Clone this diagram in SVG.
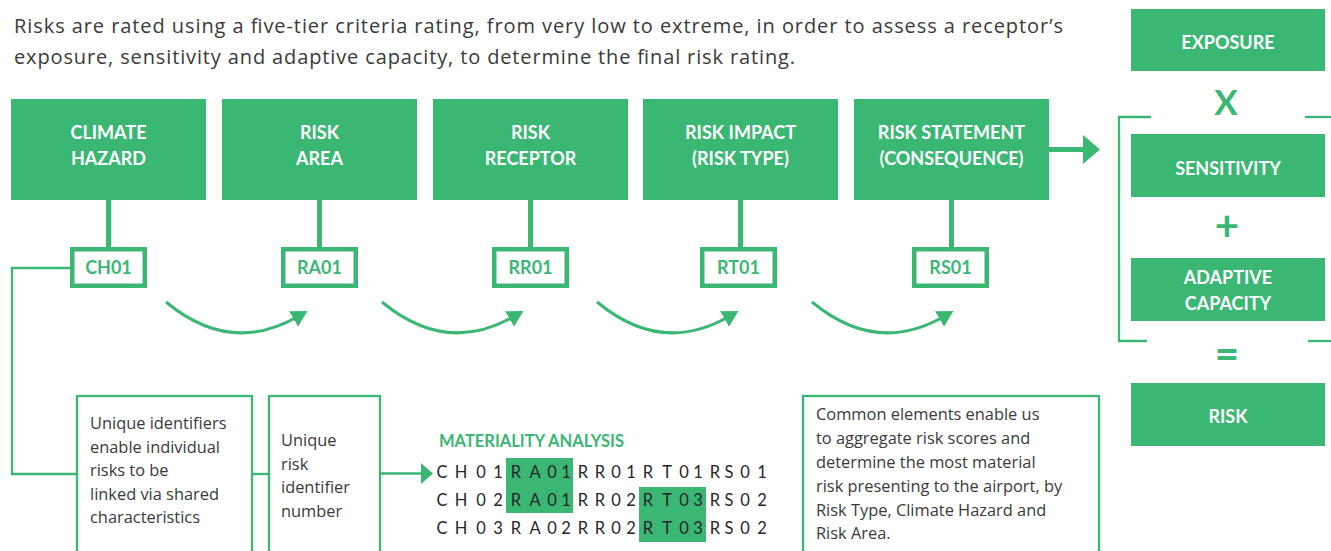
<svg xmlns="http://www.w3.org/2000/svg" width="1331" height="551" viewBox="0 0 1331 551">
  <defs>
    <style>
      .bg { fill: #ffffff; }
      .box { fill: #3bb774; }
      .boxText { font-family: Lato, "Open Sans", sans-serif; font-weight: bold; font-size: 18px; fill: #ffffff; text-anchor: middle; }
      .tag { fill: #ffffff; stroke: #3bb774; stroke-width: 4.5; }
      .tagText { font-family: Lato, "Open Sans", sans-serif; font-weight: bold; font-size: 18px; fill: #3bb774; text-anchor: middle; }
      .stem { stroke: #3bb774; stroke-width: 5; fill: none; }
      .thin { stroke: #3bb774; stroke-width: 2.3; fill: none; }
      .curve { stroke: #3bb774; stroke-width: 3; fill: none; }
      .note { fill: #ffffff; stroke: #3bb774; stroke-width: 2.3; }
      .body { font-family: "Open Sans", Lato, sans-serif; font-size: 16.4px; fill: #3a3a3a; }
      .head { font-family: "Open Sans", Lato, sans-serif; font-size: 20px; fill: #3a3a3a; }
      .op { font-family: Lato, "Open Sans", sans-serif; font-weight: bold; fill: #3bb774; text-anchor: middle; }
      .code { font-family: Lato, "Open Sans", sans-serif; font-size: 16.5px; fill: #262626; text-anchor: middle; }
      .hl { fill: #3bb774; }
      .title { font-family: Lato, "Open Sans", sans-serif; font-weight: bold; font-size: 16.5px; fill: #3bb774; }
    </style>
    <marker id="curveHead" markerUnits="userSpaceOnUse" markerWidth="20" markerHeight="22" refX="4" refY="11" orient="auto">
      <path d="M0,2 L16,11 L0,20 Z" fill="#3bb774"/>
    </marker>
  </defs>

  <rect class="bg" x="0" y="0" width="1331" height="551"/>

  <!-- intro text -->
  <g id="intro">
    <text class="head" x="14" y="33" textLength="1049" lengthAdjust="spacing">Risks are rated using a five-tier criteria rating, from very low to extreme, in order to assess a receptor’s</text>
    <text class="head" x="14" y="64" textLength="781" lengthAdjust="spacing">exposure, sensitivity and adaptive capacity, to determine the final risk rating.</text>
  </g>

  <!-- connectors -->
  <g id="connectors">
    <!-- stems from category boxes to identifier tags -->
    <line class="stem" x1="108.5" y1="200" x2="108.5" y2="249"/>
    <line class="stem" x1="319.5" y1="200" x2="319.5" y2="249"/>
    <line class="stem" x1="530.5" y1="200" x2="530.5" y2="249"/>
    <line class="stem" x1="740.5" y1="200" x2="740.5" y2="249"/>
    <line class="stem" x1="951.5" y1="200" x2="951.5" y2="249"/>

    <!-- risk statement to the rating formula -->
    <line class="stem" x1="1049" y1="149.5" x2="1085" y2="149.5"/>
    <path d="M1083,135 L1100,149.5 L1083,164 Z" fill="#3bb774"/>

    <!-- curved flow arrows between identifiers -->
    <path class="curve" d="M166,302 Q230,355 297,317" marker-end="url(#curveHead)"/>
    <path class="curve" d="M382,302 Q446,355 513,317" marker-end="url(#curveHead)"/>
    <path class="curve" d="M597,302 Q661,355 728,317" marker-end="url(#curveHead)"/>
    <path class="curve" d="M812,302 Q876,355 943,317" marker-end="url(#curveHead)"/>

    <!-- CH01 down to the notes and the materiality codes -->
    <polyline class="thin" points="70,268 12,268 12,474 77,474"/>
    <line class="thin" x1="252" y1="474" x2="269" y2="474"/>
    <line class="thin" x1="380" y1="473.5" x2="423" y2="473.5"/>
    <path d="M421,463 L433,473.5 L421,484 Z" fill="#3bb774"/>

    <!-- bracket around sensitivity and adaptive capacity -->
    <polyline class="thin" points="1151,117 1119,117 1119,341 1147,341"/>
    <line class="thin" x1="1305" y1="117" x2="1331" y2="117"/>
    <line class="thin" x1="1308" y1="341" x2="1331" y2="341"/>
  </g>

  <!-- category boxes -->
  <g id="climate-hazard">
    <rect class="box" x="11" y="99" width="195" height="101"/>
    <text class="boxText" x="108.5" y="139">CLIMATE</text>
    <text class="boxText" x="108.5" y="165">HAZARD</text>
  </g>
  <g id="risk-area">
    <rect class="box" x="222" y="99" width="195" height="101"/>
    <text class="boxText" x="319.5" y="139">RISK</text>
    <text class="boxText" x="319.5" y="165">AREA</text>
  </g>
  <g id="risk-receptor">
    <rect class="box" x="433" y="99" width="195" height="101"/>
    <text class="boxText" x="530.5" y="139">RISK</text>
    <text class="boxText" x="530.5" y="165">RECEPTOR</text>
  </g>
  <g id="risk-impact">
    <rect class="box" x="643" y="99" width="195" height="101"/>
    <text class="boxText" x="740.5" y="139">RISK IMPACT</text>
    <text class="boxText" x="740.5" y="165">(RISK TYPE)</text>
  </g>
  <g id="risk-statement">
    <rect class="box" x="854" y="99" width="195" height="101"/>
    <text class="boxText" x="951.5" y="139">RISK STATEMENT</text>
    <text class="boxText" x="951.5" y="165">(CONSEQUENCE)</text>
  </g>

  <!-- identifier tags -->
  <g id="tag-ch01">
    <rect class="tag" x="72.25" y="249.25" width="72.5" height="36.5"/>
    <text class="tagText" x="108.5" y="273.5">CH01</text>
  </g>
  <g id="tag-ra01">
    <rect class="tag" x="283.25" y="249.25" width="72.5" height="36.5"/>
    <text class="tagText" x="319.5" y="273.5">RA01</text>
  </g>
  <g id="tag-rr01">
    <rect class="tag" x="494.25" y="249.25" width="72.5" height="36.5"/>
    <text class="tagText" x="530.5" y="273.5">RR01</text>
  </g>
  <g id="tag-rt01">
    <rect class="tag" x="702.25" y="249.25" width="72.5" height="36.5"/>
    <text class="tagText" x="738.5" y="273.5">RT01</text>
  </g>
  <g id="tag-rs01">
    <rect class="tag" x="914.25" y="249.25" width="72.5" height="36.5"/>
    <text class="tagText" x="950.5" y="273.5">RS01</text>
  </g>

  <!-- rating formula -->
  <g id="exposure">
    <rect class="box" x="1131" y="9" width="194" height="62"/>
    <text class="boxText" x="1228" y="49">EXPOSURE</text>
  </g>
  <g id="op-times">
    <text class="op" x="1226" y="115" font-size="35">X</text>
  </g>
  <g id="sensitivity">
    <rect class="box" x="1131" y="134" width="194" height="63"/>
    <text class="boxText" x="1228" y="175">SENSITIVITY</text>
  </g>
  <g id="op-plus">
    <text class="op" x="1227" y="241" font-size="42">+</text>
  </g>
  <g id="adaptive-capacity">
    <rect class="box" x="1131" y="258" width="194" height="63"/>
    <text class="boxText" x="1228" y="284">ADAPTIVE</text>
    <text class="boxText" x="1228" y="310">CAPACITY</text>
  </g>
  <g id="op-equals">
    <text class="op" x="1227" y="369" font-size="42">=</text>
  </g>
  <g id="risk">
    <rect class="box" x="1131" y="383" width="194" height="63"/>
    <text class="boxText" x="1228" y="423">RISK</text>
  </g>

  <!-- explanatory notes -->
  <g id="note-shared">
    <rect class="note" x="77" y="396" width="175" height="170"/>
    <text class="body" x="90" y="429">Unique identifiers</text>
    <text class="body" x="90" y="453">enable individual</text>
    <text class="body" x="90" y="476">risks to be</text>
    <text class="body" x="90" y="500">linked via shared</text>
    <text class="body" x="90" y="523">characteristics</text>
  </g>
  <g id="note-unique">
    <rect class="note" x="269" y="396" width="111" height="170"/>
    <text class="body" x="281" y="446">Unique</text>
    <text class="body" x="281" y="470">risk</text>
    <text class="body" x="281" y="493">identifier</text>
    <text class="body" x="281" y="517">number</text>
  </g>
  <g id="note-common">
    <rect class="note" x="803" y="396" width="296" height="170"/>
    <text class="body" x="816" y="420">Common elements enable us</text>
    <text class="body" x="816" y="444">to aggregate risk scores and</text>
    <text class="body" x="816" y="468">determine the most material</text>
    <text class="body" x="816" y="492">risk presenting to the airport, by</text>
    <text class="body" x="816" y="516">Risk Type, Climate Hazard and</text>
    <text class="body" x="816" y="539">Risk Area.</text>
  </g>

  <!-- materiality analysis codes -->
  <g id="materiality">
    <text class="title" x="439" y="447">MATERIALITY ANALYSIS</text>
    <rect class="hl" x="506" y="458" width="67" height="55"/>
    <rect class="hl" x="639" y="487" width="67" height="55"/>
    <text class="code" y="478" x="442 461 481 498 516 535 552 566 583 600 616 631 648 667 684 698 715 729 745 762">CH01RA01RR01RT01RS01</text>
    <text class="code" y="506" x="442 461 481 498 516 535 552 566 583 600 616 631 648 667 684 698 715 729 745 762">CH02RA01RR02RT03RS02</text>
    <text class="code" y="534" x="442 461 481 498 516 535 552 566 583 600 616 631 648 667 684 698 715 729 745 762">CH03RA02RR02RT03RS02</text>
  </g>
</svg>
